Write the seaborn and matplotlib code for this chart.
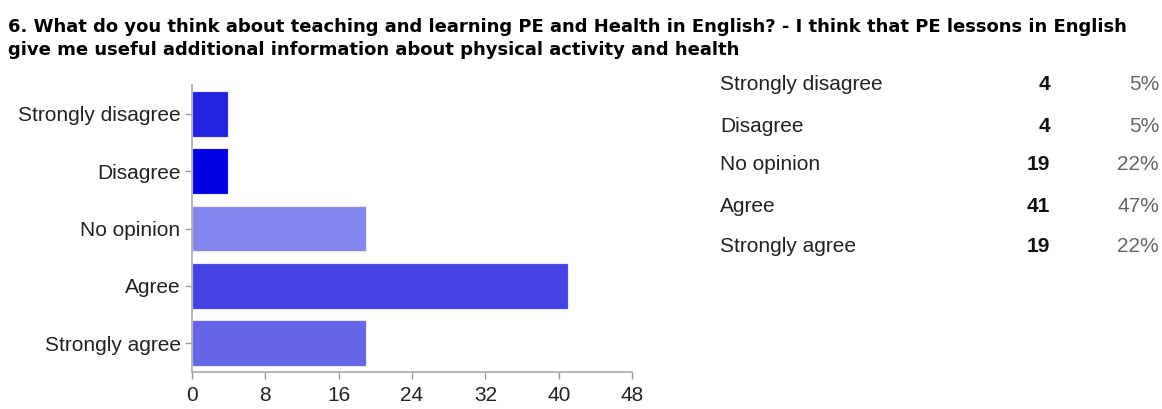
import pandas as pd
import matplotlib
matplotlib.use("Agg")
import matplotlib.pyplot as plt
import seaborn as sns

# survey data
answers = ["Strongly disagree", "Disagree", "No opinion", "Agree", "Strongly agree"]
counts = [4, 4, 19, 41, 19]
percents = ["5%", "5%", "22%", "47%", "22%"]
bar_colors = ["#2424e0", "#0000e0", "#8585ee", "#4444e4", "#6565e8"]
x_ticks = [0, 8, 16, 24, 32, 40, 48]

title = ("6. What do you think about teaching and learning PE and Health in English? - I think that PE lessons in English\n"
         "give me useful additional information about physical activity and health")

sns.set_theme(style="white")
plt.rcParams['font.family'] = ['Liberation Sans', 'DejaVu Sans']

df = pd.DataFrame({"answer": answers, "count": counts})

fig = plt.figure(figsize=(11.62, 4.09), dpi=100)
ax = fig.add_axes([0.165, 0.0905, 0.379, 0.7015])

sns.barplot(data=df, x="count", y="answer", hue="answer", palette=bar_colors,
            saturation=1, legend=False, width=0.8, edgecolor="#e8e8f8",
            linewidth=0.8, ax=ax)

ax.set_xlim(0, 48)
ax.set_xticks(x_ticks)
ax.set_xlabel("")
ax.set_ylabel("")
ax.tick_params(axis="both", labelsize=15, colors="#999999", length=5, width=1,
               labelcolor="#222222", left=True, bottom=True)
ax.tick_params(axis="x", pad=5)
ax.tick_params(axis="y", pad=3)
for side in ["top", "right"]:
    ax.spines[side].set_visible(False)
for side in ["left", "bottom"]:
    ax.spines[side].set_color("#aaaaaa")
    ax.spines[side].set_linewidth(1.2)

# title
fig.text(0.007, 0.955, title, fontsize=13.0, fontweight="bold", va="top", ha="left",
         family=['DejaVu Sans'], color="#000000", linespacing=1.3)

# summary table
row_y = [85, 126, 165, 206, 246]
for ans, c, p, y in zip(answers, counts, percents, row_y):
    fy = 1 - y / 409
    fig.text(720 / 1162, fy, ans, fontsize=15, va="center", ha="left", color="#222222")
    fig.text(1050 / 1162, fy, str(c), fontsize=15, fontweight="bold", va="center", ha="right", color="#111111")
    fig.text(1159 / 1162, fy, p, fontsize=15, va="center", ha="right", color="#666666")

fig.savefig("out.png", dpi=100)
